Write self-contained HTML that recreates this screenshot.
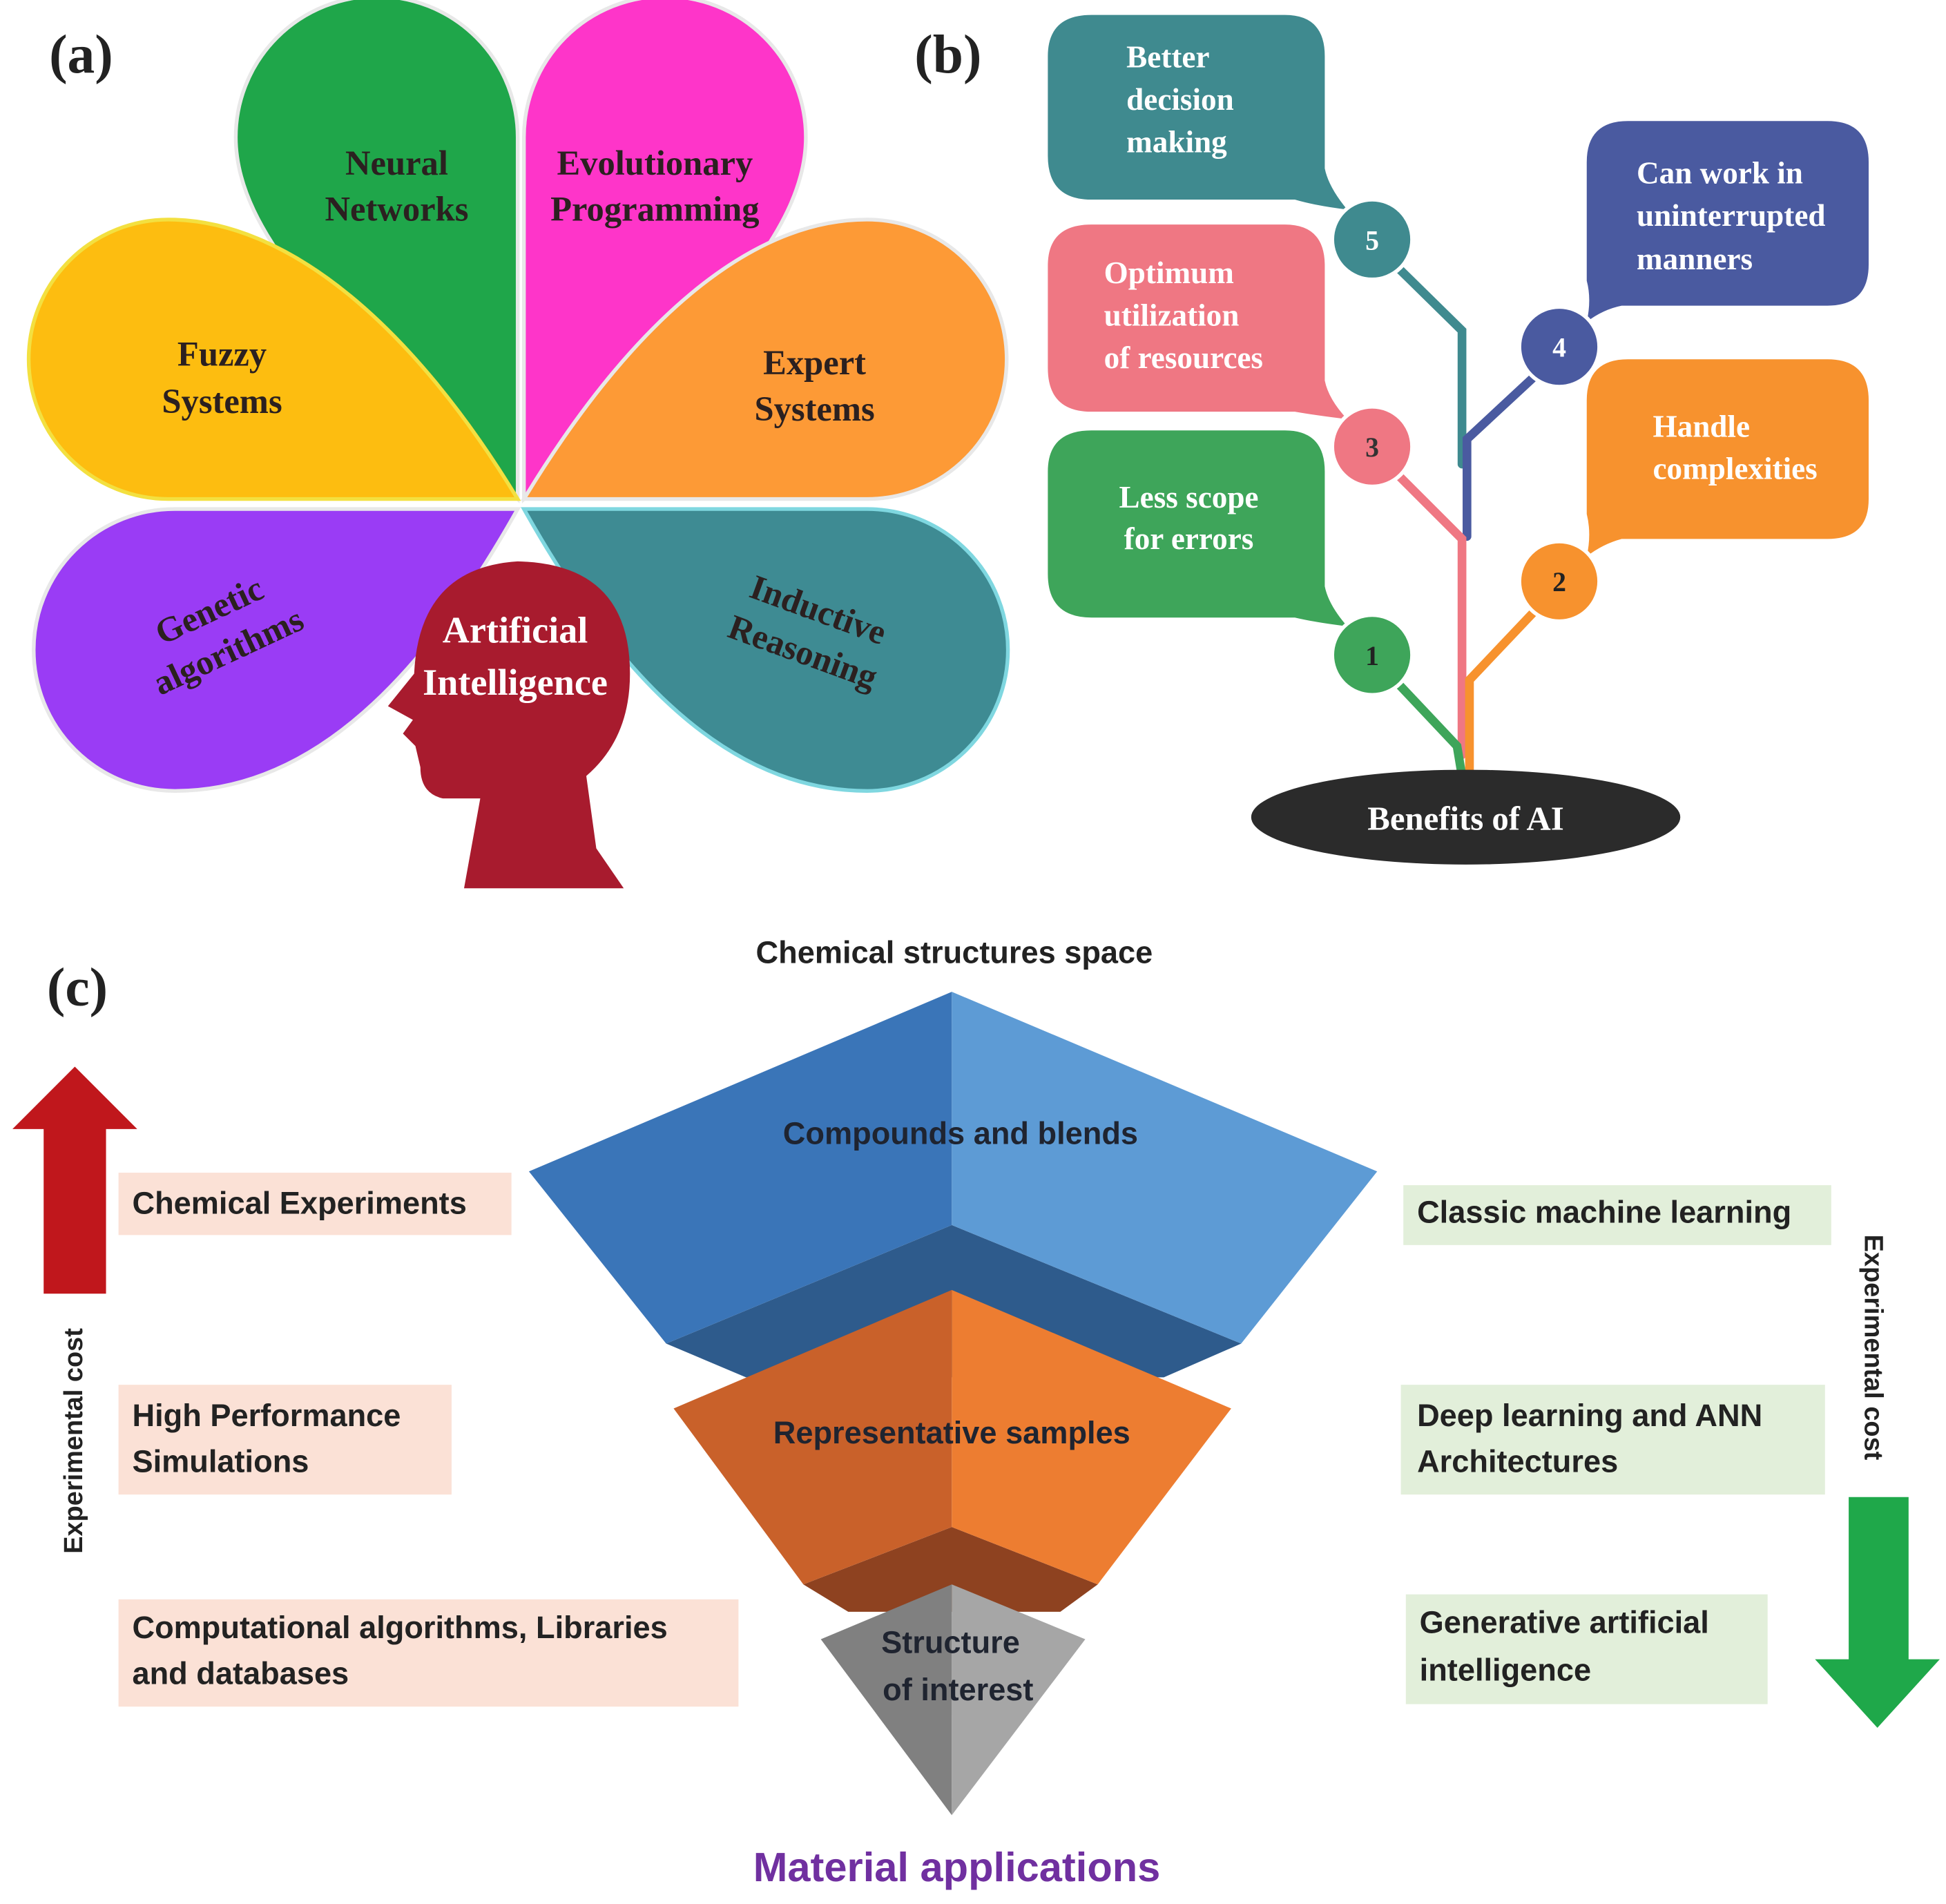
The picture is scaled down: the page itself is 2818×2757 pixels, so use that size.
<!DOCTYPE html>
<html><head><meta charset="utf-8"><style>
html,body{margin:0;padding:0;background:#fff;}
svg{display:block;}
.sb{font-family:"Liberation Serif",serif;font-weight:bold;}
.ss{font-family:"Liberation Sans",sans-serif;font-weight:bold;}
</style></head><body>
<svg width="2818" height="2757" viewBox="0 0 1560 1526.2" preserveAspectRatio="none" xmlns="http://www.w3.org/2000/svg">
<rect width="1560" height="1527" fill="#fff"/>
<!-- Panel a -->
<text x="65" y="58" class="sb" font-size="44" text-anchor="middle" fill="#222">(a)</text>
<g stroke="#e8e8e8" stroke-width="3">
<path d="M415,400 L415,110 A113,113 0 0 0 189,110 C189,200 300,290 415,400Z" fill="#1fa64a"/>
<path d="M420,400 L420,110 A113,113 0 0 1 646,110 C646,200 535,290 420,400Z" fill="#fe35c9"/>
<path d="M415,400 L135,400 A112,112 0 0 1 135,176 C230,176 330,260 415,400Z" fill="#fdbd10" stroke="#f3e040"/>
<path d="M420,400 L695,400 A112,112 0 0 0 695,176 C600,176 505,260 420,400Z" fill="#fd9a36"/>
<path d="M415,408 L140,408 A113,113 0 0 0 140,634 C240,634 330,560 415,408Z" fill="#9a3cf5"/>
<path d="M420,408 L695,408 A113,113 0 0 1 695,634 C595,634 505,560 420,408Z" fill="#3e8b93" stroke="#7fd7e0"/>
</g>
<path d="M372,712 L385,640 L355,640 Q337,636 337,615 L333,598 L323,588 L331,577 L311,566 L332,540 Q336,455 415,450 Q505,452 505,540 Q505,592 470,622 L478,680 L500,712 Z" fill="#a81b2e"/>
<g class="sb" font-size="28" fill="#2b2020" text-anchor="middle">
<text x="318" y="140">Neural</text><text x="318" y="177">Networks</text>
<text x="525" y="140">Evolutionary</text><text x="525" y="177">Programming</text>
<text x="178" y="293">Fuzzy</text><text x="178" y="331">Systems</text>
<text x="653" y="300">Expert</text><text x="653" y="337">Systems</text>
<g transform="translate(175,505) rotate(-25)"><text x="0" y="-8">Genetic</text><text x="0" y="28">algorithms</text></g>
<g transform="translate(650,505) rotate(20)"><text x="0" y="-8">Inductive</text><text x="0" y="28">Reasoning</text></g>
<text x="413" y="515" fill="#fff" font-size="30">Artificial</text><text x="413" y="557" fill="#fff" font-size="30">Intelligence</text>
</g>
<!-- Panel b -->
<text x="760" y="58" class="sb" font-size="44" text-anchor="middle" fill="#222">(b)</text>
<g stroke-width="7" fill="none" stroke-linecap="round">
<path d="M1118,212 L1172,265 L1172,372" stroke="#3f8a8f"/>
<path d="M1232,300 L1176,352 L1176,430" stroke="#4a5aa0"/>
<path d="M1118,378 L1172,432 L1172,605" stroke="#ef7783"/>
<path d="M1232,488 L1178,545 L1178,618" stroke="#f7922e"/>
<path d="M1118,545 L1168,598 L1173,628" stroke="#3ea55a"/>
</g>
<ellipse cx="1175" cy="655" rx="172" ry="38" fill="#2b2b2b"/>
<text x="1175" y="665" class="sb" font-size="27" fill="#fff" text-anchor="middle">Benefits of AI</text>
<g>
<path d="M875,12 H1030 Q1062,12 1062,45 V135 Q1065,150 1080,168 Q1055,165 1038,160 H875 Q840,160 840,125 V45 Q840,12 875,12Z" fill="#3f8a8f"/>
<path d="M875,180 H1030 Q1062,180 1062,213 V305 Q1065,320 1080,336 Q1055,333 1038,330 H875 Q840,330 840,295 V213 Q840,180 875,180Z" fill="#ef7783"/>
<path d="M875,345 H1030 Q1062,345 1062,378 V470 Q1065,485 1080,502 Q1055,499 1038,495 H875 Q840,495 840,460 V378 Q840,345 875,345Z" fill="#3ea55a"/>
<path d="M1305,97 H1465 Q1498,97 1498,130 V212 Q1498,245 1465,245 H1300 Q1285,248 1272,258 Q1276,240 1272,225 V130 Q1272,97 1305,97Z" fill="#4a5aa0"/>
<path d="M1305,288 H1465 Q1498,288 1498,321 V400 Q1498,432 1465,432 H1300 Q1285,436 1272,446 Q1276,428 1272,412 V321 Q1272,288 1305,288Z" fill="#f7922e"/>
</g>
<g class="sb" font-size="25" fill="#fff">
<text x="903" y="54">Better</text><text x="903" y="88">decision</text><text x="903" y="122">making</text>
<text x="885" y="227">Optimum</text><text x="885" y="261">utilization</text><text x="885" y="295">of resources</text>
<text x="953" y="407" text-anchor="middle">Less scope</text><text x="953" y="440" text-anchor="middle">for errors</text>
<text x="1312" y="147">Can work in</text><text x="1312" y="181">uninterrupted</text><text x="1312" y="216">manners</text>
<text x="1325" y="350">Handle</text><text x="1325" y="384">complexities</text>
</g>
<g stroke="#fff" stroke-width="3">
<circle cx="1100" cy="192" r="32" fill="#3f8a8f"/>
<circle cx="1250" cy="278" r="32" fill="#4a5aa0"/>
<circle cx="1100" cy="358" r="32" fill="#ef7783"/>
<circle cx="1250" cy="466" r="32" fill="#f7922e"/>
<circle cx="1100" cy="525" r="32" fill="#3ea55a"/>
</g>
<g class="sb" font-size="22" text-anchor="middle">
<text x="1100" y="200" fill="#fff">5</text><text x="1250" y="286" fill="#fff">4</text>
<text x="1100" y="366" fill="#333">3</text><text x="1250" y="474" fill="#222">2</text><text x="1100" y="533" fill="#222">1</text>
</g>
<!-- Panel c -->
<text x="62" y="806" class="sb" font-size="44" text-anchor="middle" fill="#222">(c)</text>
<text x="765" y="772" class="ss" font-size="25" text-anchor="middle" fill="#222">Chemical structures space</text>
<polygon points="534,1077 763,982 995,1077 933,1104 598,1104" fill="#2e5b8c"/>
<polygon points="763,795 424,939 534,1077 763,982" fill="#3a75b8"/>
<polygon points="763,795 1104,939 995,1077 763,982" fill="#5d9bd5"/>
<polygon points="644,1270 763,1224 880,1270 850,1292 680,1292" fill="#8e4220"/>
<polygon points="763,1034 540,1129 644,1270 763,1224" fill="#c9612a"/>
<polygon points="763,1034 987,1129 880,1270 763,1224" fill="#ed7d31"/>
<polygon points="763,1270 658,1314 763,1455" fill="#808080"/>
<polygon points="763,1270 870,1314 763,1455" fill="#a6a6a6"/>
<g class="ss" font-size="25" text-anchor="middle" fill="#1f2430">
<text x="770" y="917">Compounds and blends</text>
<text x="763" y="1157">Representative samples</text>
<text x="762" y="1325">Structure</text><text x="768" y="1363">of interest</text>
</g>
<text x="767" y="1508" class="ss" font-size="33" text-anchor="middle" fill="#7030a0">Material applications</text>
<g fill="#fbe1d6">
<rect x="95" y="940" width="315" height="50"/>
<rect x="95" y="1110" width="267" height="88"/>
<rect x="95" y="1282" width="497" height="86"/>
</g>
<g fill="#e2efda">
<rect x="1125" y="950" width="343" height="48"/>
<rect x="1123" y="1110" width="340" height="88"/>
<rect x="1127" y="1278" width="290" height="88"/>
</g>
<g class="ss" font-size="25" fill="#222">
<text x="106" y="973">Chemical Experiments</text>
<text x="106" y="1143">High Performance</text><text x="106" y="1180">Simulations</text>
<text x="106" y="1313">Computational algorithms, Libraries</text><text x="106" y="1350">and databases</text>
<text x="1136" y="980">Classic machine learning</text>
<text x="1136" y="1143">Deep learning and ANN</text><text x="1136" y="1180">Architectures</text>
<text x="1138" y="1309">Generative artificial</text><text x="1138" y="1347">intelligence</text>
</g>
<polygon points="60,855 110,905 85,905 85,1037 35,1037 35,905 10,905" fill="#c0171c"/>
<polygon points="1482,1200 1530,1200 1530,1330 1555,1330 1505,1385 1455,1330 1482,1330" fill="#1fa84a"/>
<text transform="translate(66,1155) rotate(-90)" class="ss" font-size="21" text-anchor="middle" fill="#222">Experimental cost</text>
<text transform="translate(1495,1080) rotate(90)" class="ss" font-size="21" text-anchor="middle" fill="#222">Experimental cost</text>
</svg>
</body></html>
